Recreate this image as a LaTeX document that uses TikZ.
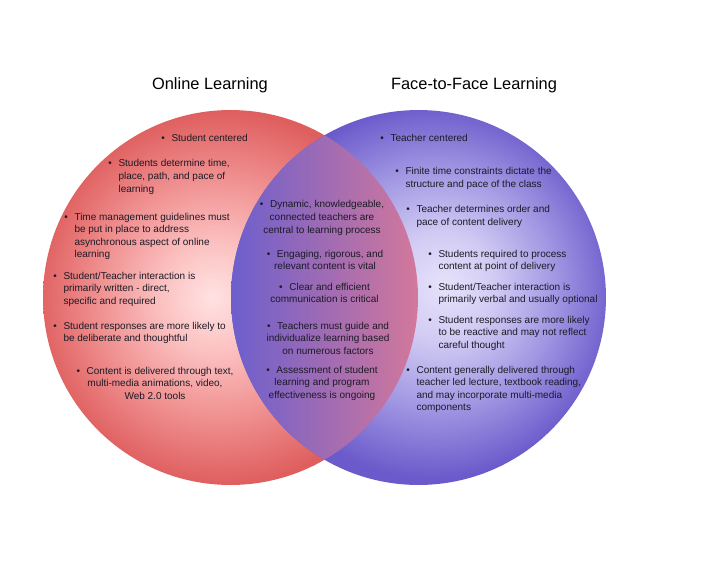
\documentclass[tikz,border=0pt]{standalone}
\usepackage{fontspec}
\setmainfont{Liberation Sans}
\usepackage{tikz}

\definecolor{onlinein}{HTML}{FFE2E2}
\definecolor{onlinemid}{HTML}{FCC2C2}
\definecolor{onlinesoft}{HTML}{F09090}
\definecolor{onlineout}{HTML}{DF5E5E}
\definecolor{facein}{HTML}{E6E2FA}
\definecolor{facemid}{HTML}{D2CCF4}
\definecolor{facesoft}{HTML}{A096E2}
\definecolor{faceout}{HTML}{6A5ACB}
\definecolor{lensleft}{HTML}{6C5FCD}
\definecolor{lensmid}{HTML}{C7A3D6}
\definecolor{lensright}{HTML}{D3789A}
\definecolor{textdark}{HTML}{1C1A26}

\pgfdeclareradialshading{onlineshade}{\pgfpoint{-2.5bp}{0bp}}{color(0bp)=(onlinein); color(7bp)=(onlinemid); color(16bp)=(onlinesoft); color(25bp)=(onlineout); color(50bp)=(onlineout)}
\pgfdeclareradialshading{faceshade}{\pgfpoint{3.5bp}{1.7bp}}{color(0bp)=(facein); color(7bp)=(facemid); color(16bp)=(facesoft); color(25bp)=(faceout); color(50bp)=(faceout)}

\newcommand{\lftpoint}[1]{\textbullet\hspace{5pt}\begin{tabular}[t]{@{}l@{}}#1\end{tabular}}
\newcommand{\ctrpoint}[1]{\begin{tabular}[t]{@{}c@{}}\textbullet\hspace{5pt}#1\end{tabular}}

\tikzset{
  heading/.style={anchor=base, inner sep=0pt, font=\fontsize{12.3}{14}\selectfont},
  leftpt/.style={anchor=base west, inner sep=0pt, text=textdark, font=\fontsize{7.5}{9.4}\selectfont},
  midpt/.style={anchor=base, inner sep=0pt, text=textdark, font=\fontsize{7.5}{9.4}\selectfont}
}

\begin{document}
\begin{tikzpicture}[x=0.75pt,y=-0.75pt]
  \useasboundingbox[fill=white] (0,0) rectangle (728,563);

  % Circles
  \coordinate (onlinec) at (230.5,297.5);
  \coordinate (facec) at (418.5,297.5);
  \shade[shading=onlineshade] (onlinec) circle (140.6pt);
  \shade[shading=faceshade] (facec) circle (140.6pt);

  % Overlap
  \begin{scope}
    \clip (onlinec) circle (140.6pt);
    \clip (facec) circle (140.6pt);
    \shade[left color=lensleft, middle color=lensmid, right color=lensright] (231,105) rectangle (419,490);
  \end{scope}

  % Headings
  \node[heading] (onlinehd) at (210,90) {Online Learning};
  \node[heading] (facehd) at (474,90) {Face-to-Face Learning};

  % Online only
  \node[leftpt] (online1) at (161.1,142) {\lftpoint{Student centered}};
  \node[leftpt] (online2) at (108.1,167) {\lftpoint{Students determine time,\\ place, path, and pace of\\ learning}};
  \node[leftpt] (online3) at (64.1,220) {\lftpoint{Time management guidelines must\\ be put in place to address\\ asynchronous aspect of online\\ learning}};
  \node[leftpt] (online4) at (53.1,279) {\lftpoint{Student/Teacher interaction is\\ primarily written - direct,\\ specific and required}};
  \node[leftpt] (online5) at (53.1,329) {\lftpoint{Student responses are more likely to\\ be deliberate and thoughtful}};
  \node[midpt] (online6) at (155,374) {\ctrpoint{Content is delivered through text,\\ multi-media animations, video,\\ Web 2.0 tools}};

  % Both
  \node[midpt] (both1) at (322,208) {\ctrpoint{Dynamic, knowledgeable,\\ connected teachers are\\ central to learning process}};
  \node[midpt] (both2) at (325,257) {\ctrpoint{Engaging, rigorous, and\\ relevant content is vital}};
  \node[midpt] (both3) at (324.5,290) {\ctrpoint{Clear and efficient\\ communication is critical}};
  \node[midpt] (both4) at (328,329) {\ctrpoint{Teachers must guide and\\ individualize learning based\\ on numerous factors}};
  \node[midpt] (both5) at (322,373) {\ctrpoint{Assessment of student\\ learning and program\\ effectiveness is ongoing}};

  % Face-to-face only
  \node[leftpt] (face1) at (380.1,142) {\lftpoint{Teacher centered}};
  \node[leftpt] (face2) at (395.1,175) {\lftpoint{Finite time constraints dictate the\\ structure and pace of the class}};
  \node[leftpt] (face3) at (406.1,213) {\lftpoint{Teacher determines order and\\ pace of content delivery}};
  \node[leftpt] (face4) at (428.1,257) {\lftpoint{Students required to process\\ content at point of delivery}};
  \node[leftpt] (face5) at (428.1,290) {\lftpoint{Student/Teacher interaction is\\ primarily verbal and usually optional}};
  \node[leftpt] (face6) at (428.1,323) {\lftpoint{Student responses are more likely\\ to be reactive and may not reflect\\ careful thought}};
  \node[leftpt] (face7) at (406.1,373) {\lftpoint{Content generally delivered through\\ teacher led lecture, textbook reading,\\ and may incorporate multi-media\\ components}};
\end{tikzpicture}
\end{document}
